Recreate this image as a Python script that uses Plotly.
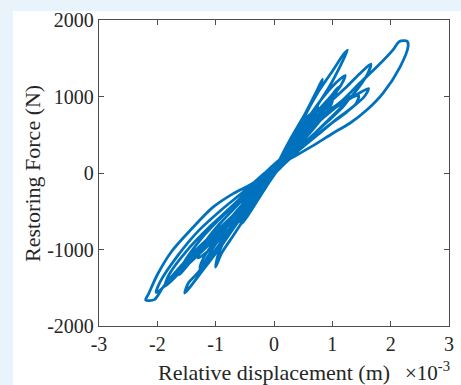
import plotly.graph_objects as go

# ---- data: hysteresis cycles (displacement in 1e-3 m, force in N) ----
disp_c1 = [0.05, 0.3, 0.62, 0.9, 1.18, 1.47, 1.76, 2.04, 2.15, 2.28, 2.3, 2.16, 1.87, 1.59, 1.3, 1.01, 0.74, 0.45, 0.15,
           -0.12, -0.35, -0.6, -0.85, -1.1, -1.39, -1.66, -1.9, -2.05, -2.2, -2.15, -2.0, -1.75, -1.4, -1.05, -0.7, -0.35, -0.1, 0.05]
force_c1 = [120, 330, 600, 785, 955, 1175, 1385, 1610, 1720, 1725, 1660, 1385, 1045, 823, 650, 520, 390, 260, 130,
            -60, -280, -480, -660, -835, -1045, -1270, -1490, -1655, -1660, -1580, -1330, -1020, -720, -450, -270, -130, 0, 120]

disp_c2 = [0.05, 0.25, 0.5, 0.75, 1.0, 1.2, 1.26, 1.15, 0.95, 0.7, 0.45, 0.2, 0.0, -0.3, -0.6, -0.9, -1.2, -1.45, -1.53,
           -1.47, -1.3, -1.1, -0.85, -0.55, -0.25, 0.05]
force_c2 = [100, 400, 730, 1050, 1330, 1560, 1605, 1420, 1130, 830, 520, 200, -20, -300, -620, -950, -1250, -1500, -1570,
            -1440, -1300, -1050, -750, -450, -170, 100]

disp_c3 = [-0.05, 0.1, 0.3, 0.55, 0.75, 0.83, 0.78, 0.6, 0.4, 0.15, -0.1, -0.4, -0.7, -0.9, -1.0, -0.97, -0.85, -0.6, -0.3, -0.05]
force_c3 = [0, 150, 450, 800, 1100, 1225, 1100, 850, 550, 200, -120, -470, -820, -1050, -1230, -1100, -880, -560, -250, 0]

disp_c4 = [0.05, 0.2, 0.5, 0.8, 1.05, 1.22, 1.15, 0.9, 0.6, 0.3, 0.0, -0.4, -0.8, -1.2, -1.55, -1.87,
           -1.8, -1.5, -1.1, -0.7, -0.3, 0.05]
force_c4 = [120, 250, 620, 950, 1170, 1275, 1150, 900, 600, 300, 0, -350, -700, -1000, -1250, -1480,
            -1330, -1020, -700, -420, -130, 120]

disp_c5 = [0.05, 0.2, 0.55, 0.9, 1.25, 1.5, 1.66, 1.6, 1.35, 1.05, 0.7, 0.35, 0.0, -0.35, -0.7, -1.0, -1.2, -1.27,
           -1.2, -0.95, -0.6, -0.25, 0.05]
force_c5 = [110, 230, 580, 880, 1130, 1320, 1425, 1290, 1020, 780, 520, 260, -20, -330, -680, -1000, -1200, -1245,
            -1100, -820, -480, -160, 110]

disp_c6 = [0.15, 0.3, 0.6, 0.95, 1.3, 1.62, 1.55, 1.25, 0.9, 0.55, 0.2, -0.1, -0.5, -0.9, -1.3, -1.65, -1.95, -2.02,
           -1.95, -1.65, -1.3, -0.9, -0.5, -0.1, 0.15]
force_c6 = [210, 300, 560, 800, 970, 1105, 1000, 800, 600, 380, 150, -80, -380, -720, -1020, -1300, -1530, -1560,
            -1420, -1080, -760, -480, -230, 40, 210]

disp_c7 = [0.1, 0.3, 0.55, 0.75, 0.7, 0.45, 0.2, -0.1, -0.4, -0.65, -0.8, -0.72, -0.45, -0.15, 0.1]
force_c7 = [150, 380, 640, 870, 760, 480, 220, -90, -400, -650, -820, -690, -420, -100, 150]

disp_c8 = [0.1, 0.35, 0.62, 0.95, 1.1, 1.0, 0.7, 0.4, 0.1, -0.2, -0.5, -0.75, -0.68, -0.4, -0.1, 0.1]
force_c8 = [130, 390, 700, 980, 1120, 950, 680, 400, 110, -200, -500, -760, -620, -350, -60, 130]

disp_c9 = [0.1, 0.4, 0.7, 1.0, 1.3, 1.2, 0.9, 0.6, 0.3, 0.0, -0.3, -0.6, -0.55, -0.3, 0.1]
force_c9 = [140, 380, 620, 820, 1000, 880, 660, 450, 230, 0, -260, -540, -420, -180, 140]

disp_c10 = [0.1, 0.3, 0.5, 0.45, 0.25, 0.0, -0.25, -0.45, -0.4, -0.2, 0.1]
force_c10 = [120, 380, 600, 480, 260, -30, -300, -520, -400, -160, 120]

disp_c11 = [0.05, 0.25, 0.45, 0.65, 0.6, 0.35, 0.1, -0.15, -0.35, -0.3, -0.1, 0.05]
force_c11 = [100, 300, 480, 680, 560, 330, 80, -180, -380, -270, -60, 100]

disp_c12 = [0.1, 0.35, 0.6, 0.9, 0.85, 0.55, 0.25, -0.05, -0.35, -0.6, -0.55, -0.3, 0.1]
force_c12 = [160, 430, 700, 900, 800, 540, 260, -40, -360, -640, -520, -240, 160]

disp_c13 = [-0.1, 0.1, 0.45, 0.75, 1.0, 0.95, 0.7, 0.45, 0.2, -0.1, -0.45, -0.8, -1.1, -1.3, -1.22, -0.95, -0.6, -0.3, -0.1]
force_c13 = [-30, 180, 560, 820, 960, 850, 600, 380, 170, -110, -430, -760, -1000, -1110, -950, -680, -400, -150, -30]

disp_c14 = [0.2, 0.4, 0.75, 1.1, 1.45, 1.4, 1.1, 0.75, 0.4, 0.1, -0.25, -0.65, -1.05, -1.4, -1.62, -1.55, -1.25, -0.85, -0.45, -0.1, 0.2]
force_c14 = [230, 420, 700, 900, 1010, 900, 720, 500, 280, 60, -200, -540, -860, -1130, -1330, -1180, -860, -540, -260, 10, 230]

disp_c15 = [0.0, 0.2, 0.4, 0.6, 0.55, 0.35, 0.15, -0.1, -0.3, -0.55, -0.5, -0.3, -0.1, 0.0]
force_c15 = [40, 280, 540, 760, 640, 400, 150, -140, -380, -660, -520, -280, -60, 40]

disp_c16 = [0.2, 0.35, 0.55, 0.8, 0.75, 0.5, 0.3, 0.05, -0.2, -0.5, -0.7, -0.65, -0.4, -0.15, 0.2]
force_c16 = [260, 420, 620, 760, 680, 480, 310, 70, -190, -480, -700, -600, -330, -80, 260]

x_tick_vals = [-3, -2, -1, 0, 1, 2, 3]
x_tick_text = ["-3", "-2", "-1", "0", "1", "2", "3"]
y_tick_vals = [-2000, -1000, 0, 1000, 2000]
y_tick_text = ["-2000", "-1000", "0", "1000", "2000"]

cycles_x = [disp_c1, disp_c2, disp_c3, disp_c4, disp_c5, disp_c6, disp_c7, disp_c8, disp_c9,
            disp_c10, disp_c11, disp_c12, disp_c13, disp_c14, disp_c15, disp_c16]
cycles_y = [force_c1, force_c2, force_c3, force_c4, force_c5, force_c6, force_c7, force_c8, force_c9,
            force_c10, force_c11, force_c12, force_c13, force_c14, force_c15, force_c16]
order = [10, 14, 9, 15, 6, 2, 11, 12, 8, 1, 7, 3, 13, 4, 5, 0]

xs, ys = [], []
for i in order:
    xs += cycles_x[i]
    ys += cycles_y[i]

LINE = "#0072BD"
FONT = "Liberation Serif, Times New Roman, serif"
AX = "#4d4d4d"
TXT = "#262626"
BG = "#e8f3fc"

fig = go.Figure()
fig.add_trace(go.Scatter(x=xs, y=ys, mode="lines",
                         line=dict(color=LINE, width=2.8, shape="spline", smoothing=0.8),
                         hoverinfo="skip", showlegend=False))

W, H = 461, 385
L, R, T, B = 99, 12, 20, 59
pw, ph = W - L - R, H - T - B

fig.update_layout(
    width=W, height=H,
    margin=dict(l=L, r=R, t=T, b=B, autoexpand=False),
    paper_bgcolor=BG,
    plot_bgcolor="white",
    font=dict(family=FONT, size=20, color=TXT),
    showlegend=False,
)
# white panel behind the axes
fig.add_shape(type="rect", xref="paper", yref="paper", layer="below",
              x0=(13 - L) / pw, x1=(W - L) / pw + 0.01,
              y0=-(B + 2) / ph, y1=1 + (T - 11) / ph,
              fillcolor="white", line=dict(width=0))

fig.update_xaxes(range=[-3, 3], tickvals=x_tick_vals, ticktext=x_tick_text,
                 ticks="inside", ticklen=5, tickwidth=1, tickcolor=AX,
                 showline=True, linecolor=AX, linewidth=1.3, mirror="ticks",
                 showgrid=False, zeroline=False, automargin=False,
                 tickfont=dict(family=FONT, size=20, color=TXT))
fig.update_yaxes(range=[-2000, 2000], tickvals=y_tick_vals, ticktext=y_tick_text,
                 ticks="inside", ticklen=5, tickwidth=1, tickcolor=AX,
                 showline=True, linecolor=AX, linewidth=1.3, mirror="ticks",
                 showgrid=False, zeroline=False, automargin=False,
                 tickfont=dict(family=FONT, size=20, color=TXT))

def px_to_paper_x(px):
    return (px - L) / pw

def py_to_paper_y(py):
    return (H - B - py) / ph

# axis titles
fig.add_annotation(xref="paper", yref="paper", x=px_to_paper_x(274), y=py_to_paper_y(372),
                   text="Relative displacement (m)", showarrow=False,
                   xanchor="center", yanchor="middle",
                   font=dict(family=FONT, size=22, color=TXT))
fig.add_annotation(xref="paper", yref="paper", x=px_to_paper_x(32), y=py_to_paper_y(174),
                   text="Restoring Force (N)", showarrow=False, textangle=-90,
                   xanchor="center", yanchor="middle",
                   font=dict(family=FONT, size=22, color=TXT))
fig.add_annotation(xref="paper", yref="paper", x=px_to_paper_x(452), y=py_to_paper_y(371),
                   text="\u00d710<sup>-3</sup>", showarrow=False,
                   xanchor="right", yanchor="middle",
                   font=dict(family=FONT, size=21, color=TXT))

fig.write_html("out.html", config={"displayModeBar": False},
               post_script="document.body.style.margin='0';document.body.style.padding='0';"
                           "document.body.style.overflow='hidden';document.body.style.background='" + BG + "';")
